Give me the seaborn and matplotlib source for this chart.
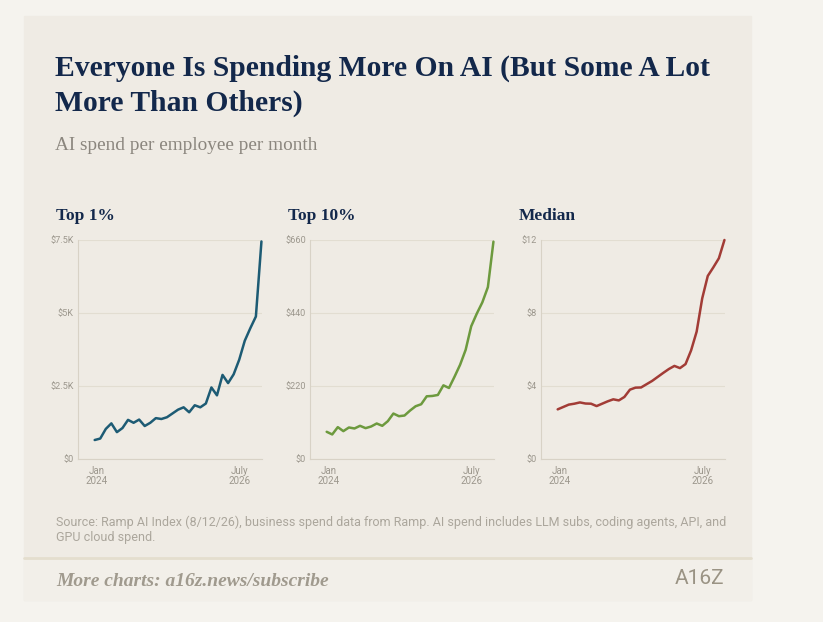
import matplotlib
matplotlib.use("Agg")
import matplotlib.pyplot as plt
from matplotlib.patches import Rectangle
from matplotlib.lines import Line2D
import seaborn as sns
import pandas as pd

# monthly points, Jan 2024 onwards
month_idx = [0, 1, 2, 3, 4, 5, 6, 7, 8, 9, 10, 11, 12, 13, 14, 15,
             16, 17, 18, 19, 20, 21, 22, 23, 24, 25, 26, 27, 28, 29, 30]
top1 = [650, 700, 1030, 1220, 920, 1060, 1340, 1240, 1350, 1130, 1240,
        1400, 1370, 1430, 1560, 1690, 1770, 1600, 1840, 1770, 1900, 2450,
        2180, 2880, 2600, 2900, 3400, 4050, 4480, 4880, 7450]
top10 = [82, 74, 96, 84, 95, 92, 100, 93, 98, 107, 100, 114, 137, 129, 131,
         146, 159, 165, 189, 190, 193, 222, 214, 248, 284, 329, 400, 438,
         472, 518, 655]
median = [2.72, 2.85, 2.98, 3.03, 3.10, 3.04, 3.03, 2.90, 3.03, 3.16, 3.27,
          3.21, 3.40, 3.80, 3.91, 3.92, 4.10, 4.28, 4.50, 4.72, 4.93, 5.10,
          4.98, 5.20, 5.95, 6.98, 8.80, 10.03, 10.50, 11.0, 12.0]

x_tick_pos = [0.4, 26]
x_tick_labels = ["Jan\n2024", "July\n2026"]

panels = [
    ("Top 1%", top1, [0, 2500, 5000, 7500], ["$0", "$2.5K", "$5K", "$7.5K"], "#1d5b74"),
    ("Top 10%", top10, [0, 220, 440, 660], ["$0", "$220", "$440", "$660"], "#6d9a3e"),
    ("Median", median, [0, 4, 8, 12], ["$0", "$4", "$8", "$12"], "#a23c36"),
]

sns.set_theme(style="white")
plt.rcParams["font.family"] = ["Roboto", "DejaVu Sans"]

W, H = 823, 622
fig = plt.figure(figsize=(W / 100, H / 100), dpi=100)
fig.patch.set_facecolor("#f5f3ee")


def fx(px):
    return px / W


def fy(py):
    return 1 - py / H


# card + footer band
fig.add_artist(Rectangle((fx(24), fy(600)), fx(751) - fx(24), fy(16) - fy(600),
                         transform=fig.transFigure, color="#efebe4", zorder=-10))
fig.add_artist(Rectangle((fx(24), fy(600)), fx(751) - fx(24), fy(558) - fy(600),
                         transform=fig.transFigure, color="#f2efe9", zorder=-9))
fig.add_artist(Line2D([fx(24), fx(751)], [fy(558), fy(558)], transform=fig.transFigure,
                      color="#e4dece", lw=2, zorder=-8))

navy = "#13284b"
serif = ["Liberation Serif", "DejaVu Serif"]
fig.text(fx(55), fy(76), "Everyone Is Spending More On AI (But Some A Lot",
         family=serif, weight="bold", size=21.3, color=navy, va="baseline")
fig.text(fx(55), fy(111), "More Than Others)",
         family=serif, weight="bold", size=21.3, color=navy, va="baseline")
fig.text(fx(55), fy(150), "AI spend per employee per month",
         family=serif, size=13.9, color="#8b867e", va="baseline")

lefts = [78, 310, 541]
for (name, vals, yt, ylab, col), left in zip(panels, lefts):
    ax = fig.add_axes([fx(left), fy(459), fx(184), fy(240) - fy(459)])
    ax.set_facecolor("none")
    df = pd.DataFrame({"month": month_idx, "spend": vals})
    sns.lineplot(data=df, x="month", y="spend", ax=ax, color=col, lw=1.8, clip_on=False)
    ax.set_xlim(-3, 30.1)
    ax.set_ylim(yt[0], yt[-1])
    ax.set_yticks(yt)
    ax.set_yticklabels(ylab)
    ax.set_xticks(x_tick_pos)
    ax.set_xticklabels(x_tick_labels, linespacing=1.0)
    ax.set_xlabel("")
    ax.set_ylabel("")
    ax.tick_params(length=0, labelsize=6.6, labelcolor="#9c978d")
    ax.tick_params(axis="y", pad=3)
    ax.tick_params(axis="x", labelsize=7, pad=5)
    ax.yaxis.grid(True, color="#e2ddd1", lw=0.8)
    ax.xaxis.grid(False)
    for s in ["top", "right"]:
        ax.spines[s].set_visible(False)
    for s in ["left", "bottom"]:
        ax.spines[s].set_color("#d8d2c6")
        ax.spines[s].set_linewidth(0.8)
    fig.text(fx(left - 22), fy(220), name, family=serif, weight="bold", size=12.5,
             color=navy, va="baseline")

fig.text(fx(56), fy(522), "Source: Ramp AI Index (8/12/26), business spend data from Ramp. "
         "AI spend includes LLM subs, coding agents, API, and", size=9.0, color="#aba69c",
         va="center")
fig.text(fx(56), fy(537), "GPU cloud spend.", size=9.0, color="#aba69c", va="center")

fig.text(fx(56), fy(581), "More charts: a16z.news/subscribe", family=serif, style="italic",
         weight="bold", size=14, color="#a09a8e", va="center")
fig.text(fx(700), fy(579), "A16Z", size=15, color="#9a9384", ha="center", va="center",
         family=["Roboto", "DejaVu Sans"])

fig.savefig("out.png", dpi=100)
